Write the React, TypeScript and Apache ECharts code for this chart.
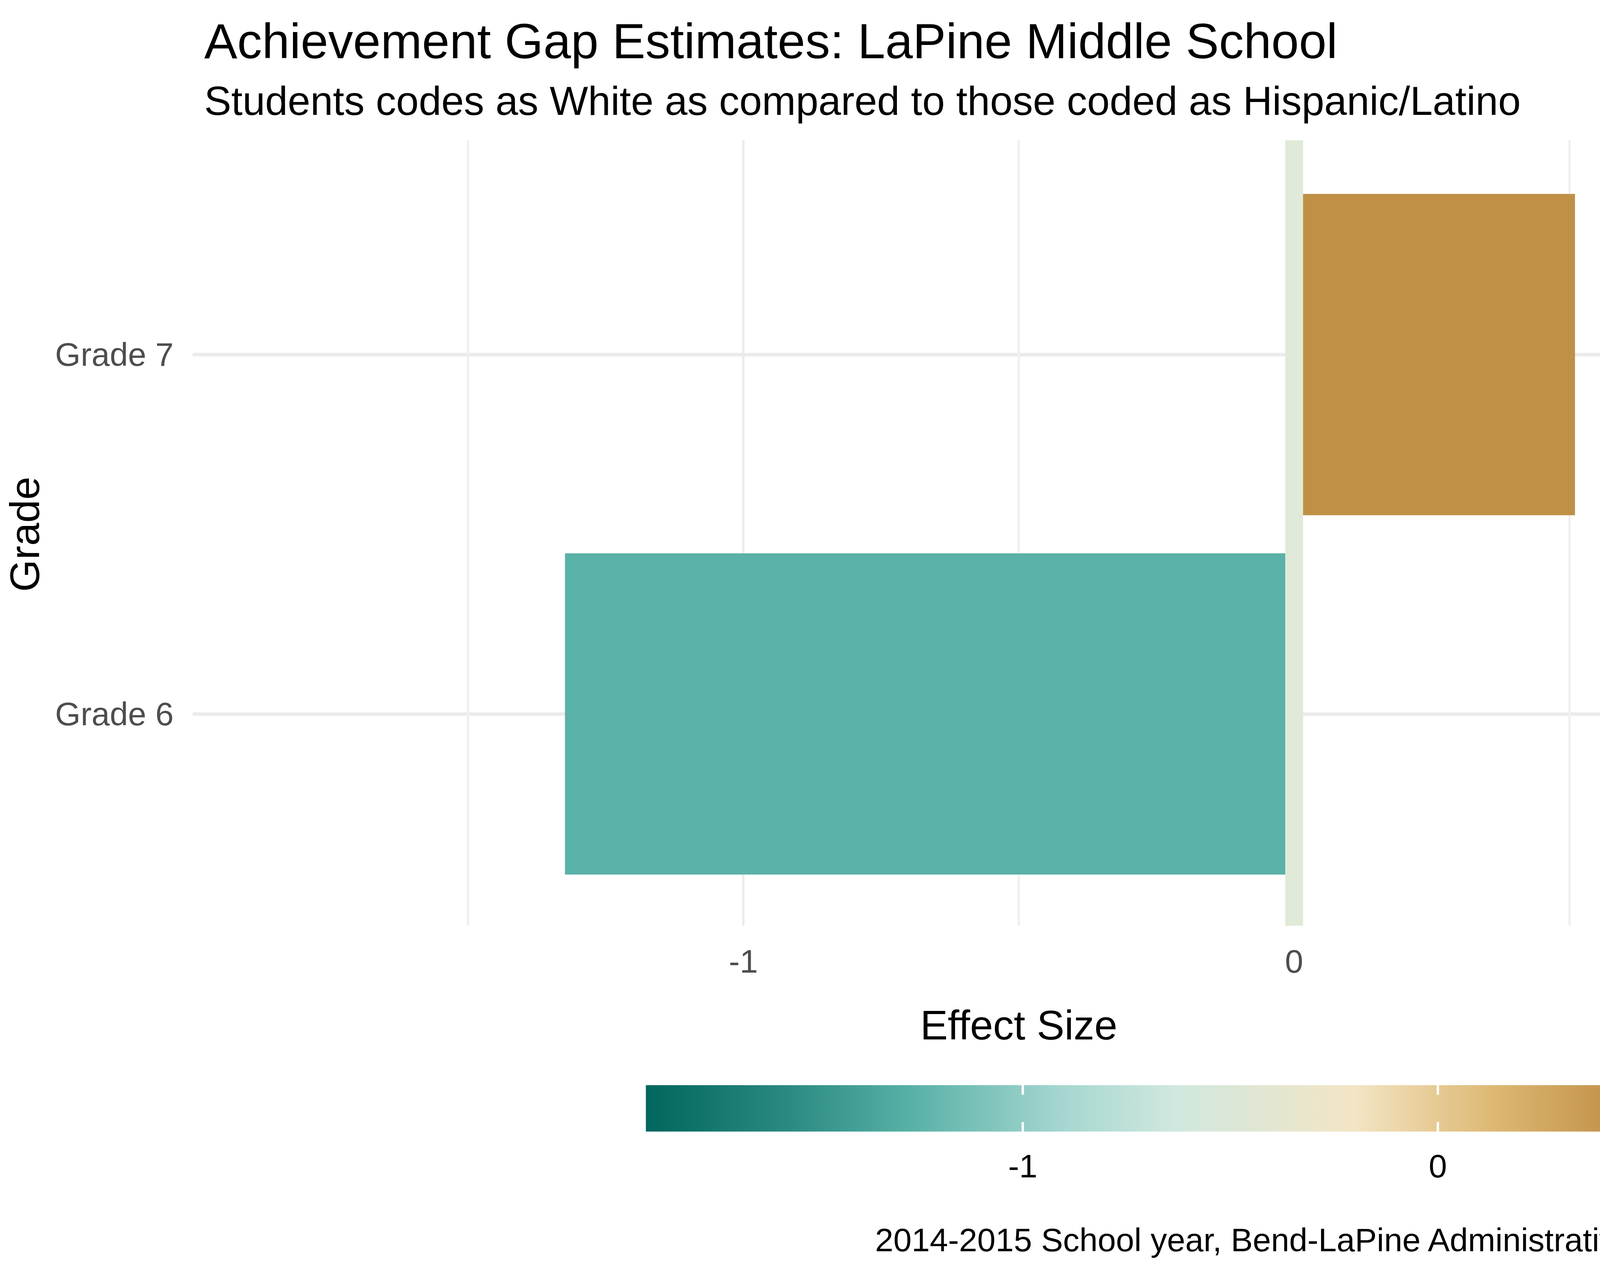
import React, { useEffect, useRef } from 'react';
import * as echarts from 'echarts';

const grades = ['Grade 6', 'Grade 7'];
const effectSizes = [-1.324, 0.51];
const barColors = ['#5AB1A8', '#BF9045'];
const xTickLabels = ['-1', '0'];
const legendTicks = [-1, 0];
const legendMin = -1.908;
const legendMax = 0.929;

const S = 3.045;
const FONT = 'Liberation Sans, Arial, sans-serif';

const App: React.FC = () => {
  const chartRef = useRef<HTMLDivElement>(null);

  useEffect(() => {
    if (!chartRef.current) return;
    const chart = echarts.init(chartRef.current, undefined, { renderer: 'svg' });

    const left = 162 * S;
    const right = 4750 - 1551 * S;
    const barLeft = 543 * S;
    const barWidth = 990 * S;
    const barTop = 912 * S;
    const barHeight = 39 * S;
    const toLegendX = (v: number) => barLeft + ((v - legendMin) / (legendMax - legendMin)) * barWidth;
    const tickFont = 84;

    const option: echarts.EChartsOption = {
      animation: false,
      backgroundColor: '#fff',
      textStyle: { fontFamily: FONT },
      title: [
        { text: 'Achievement Gap Estimates: LaPine Middle School', left: 170 * S, top: 12 * S, textStyle: { fontSize: 127, fontWeight: 'normal', color: '#000', fontFamily: FONT } },
        { text: 'Students codes as White as compared to those coded as Hispanic/Latino', left: 170 * S, top: 66 * S, textStyle: { fontSize: 104, fontWeight: 'normal', color: '#000', fontFamily: FONT } },
      ],
      grid: [
        { left, right, top: 118 * S, height: 660 * S },
        { left, right, top: 147 * S, height: 604 * S },
        { left, right, top: 147 * S, height: 604 * S },
      ],
      xAxis: [
        {
          type: 'value', gridIndex: 0, min: -2, max: 1, interval: 0.5,
          axisLine: { show: false }, axisTick: { show: false },
          axisLabel: {
            color: '#4D4D4D', fontSize: tickFont, margin: 16 * S,
            formatter: (v: number) => (v === -1 ? xTickLabels[0] : v === 0 ? xTickLabels[1] : ''),
          },
          splitLine: {
            lineStyle: {
              width: 2 * S,
              color: ['rgba(0,0,0,0)', '#F0F0F0', '#EBEBEB', '#F0F0F0', '#EBEBEB', '#F0F0F0', 'rgba(0,0,0,0)'],
            },
          },
          name: 'Effect Size', nameLocation: 'middle', nameGap: 66 * S,
          nameTextStyle: { fontSize: 106, color: '#000' },
        },
        { type: 'value', gridIndex: 1, min: -2, max: 1, show: false },
        { type: 'value', gridIndex: 2, min: -2, max: 1, show: false },
      ],
      yAxis: [
        { type: 'value', gridIndex: 0, min: 0.4, max: 2.6, show: false },
        {
          type: 'category', gridIndex: 1, data: grades,
          axisLine: { show: false }, axisTick: { show: false }, splitLine: { show: false },
          axisLabel: { color: '#4D4D4D', fontSize: tickFont, margin: 16 * S },
          name: 'Grade', nameLocation: 'middle', nameGap: 124 * S, nameRotate: 90,
          nameTextStyle: { fontSize: 106, color: '#000' },
        },
        {
          type: 'value', gridIndex: 2, min: 0.5, max: 2.5, interval: 0.5,
          axisLine: { show: false }, axisTick: { show: false }, axisLabel: { show: false },
          splitLine: {
            lineStyle: {
              width: 3 * S,
              color: ['rgba(0,0,0,0)', '#EBEBEB', 'rgba(0,0,0,0)', '#EBEBEB', 'rgba(0,0,0,0)'],
            },
          },
        },
      ],
      series: [
        {
          type: 'bar', xAxisIndex: 1, yAxisIndex: 1, barCategoryGap: '10.6%', z: 2,
          data: effectSizes.map((v, i) => ({ value: v, itemStyle: { color: barColors[i] } })),
        },
        {
          type: 'line', xAxisIndex: 0, yAxisIndex: 0, data: [[0, 1]], showSymbol: false, symbolSize: 0, z: 5,
          lineStyle: { opacity: 0 },
          markLine: {
            silent: true, symbol: 'none', label: { show: false },
            lineStyle: { color: '#E0EAD8', width: 15 * S, type: 'solid', opacity: 1 },
            data: [{ xAxis: 0 }],
          },
        },
      ],
      graphic: [
        {
          type: 'rect', shape: { x: barLeft, y: barTop, width: barWidth, height: barHeight },
          style: {
            fill: new echarts.graphic.LinearGradient(0, 0, 1, 0, [
              { offset: 0, color: '#01665E' },
              { offset: 0.12, color: '#2A8A82' },
              { offset: 0.22, color: '#55AFA5' },
              { offset: 0.35, color: '#A3D6CF' },
              { offset: 0.45, color: '#D0E8DF' },
              { offset: 0.6, color: '#F3E5C5' },
              { offset: 0.72, color: '#DDB873' },
              { offset: 0.86, color: '#B8833A' },
              { offset: 1, color: '#8C510A' },
            ]),
          },
        },
        ...legendTicks.flatMap((t) => [
          { type: 'rect', shape: { x: toLegendX(t) - 1 * S, y: barTop, width: 2 * S, height: 8 * S }, style: { fill: '#fff' } },
          { type: 'rect', shape: { x: toLegendX(t) - 1 * S, y: barTop + barHeight - 8 * S, width: 2 * S, height: 8 * S }, style: { fill: '#fff' } },
          {
            type: 'text', x: toLegendX(t), y: 980 * S,
            style: { text: String(t), fill: '#000', fontSize: tickFont, fontFamily: FONT, align: 'center', verticalAlign: 'middle' },
          },
        ]),
        {
          type: 'text', x: 1550 * S, y: 1042 * S,
          style: {
            text: '2014-2015 School year, Bend-LaPine Administrative SD 1, Oregon',
            fill: '#000', fontSize: tickFont, fontFamily: FONT, align: 'right', verticalAlign: 'middle',
          },
        },
      ] as any,
    };

    chart.setOption(option);
    return () => chart.dispose();
  }, []);

  return <div ref={chartRef} style={{ position: 'absolute', left: 0, top: 0, width: 4750, height: 3250 }} />;
};

export default App;
